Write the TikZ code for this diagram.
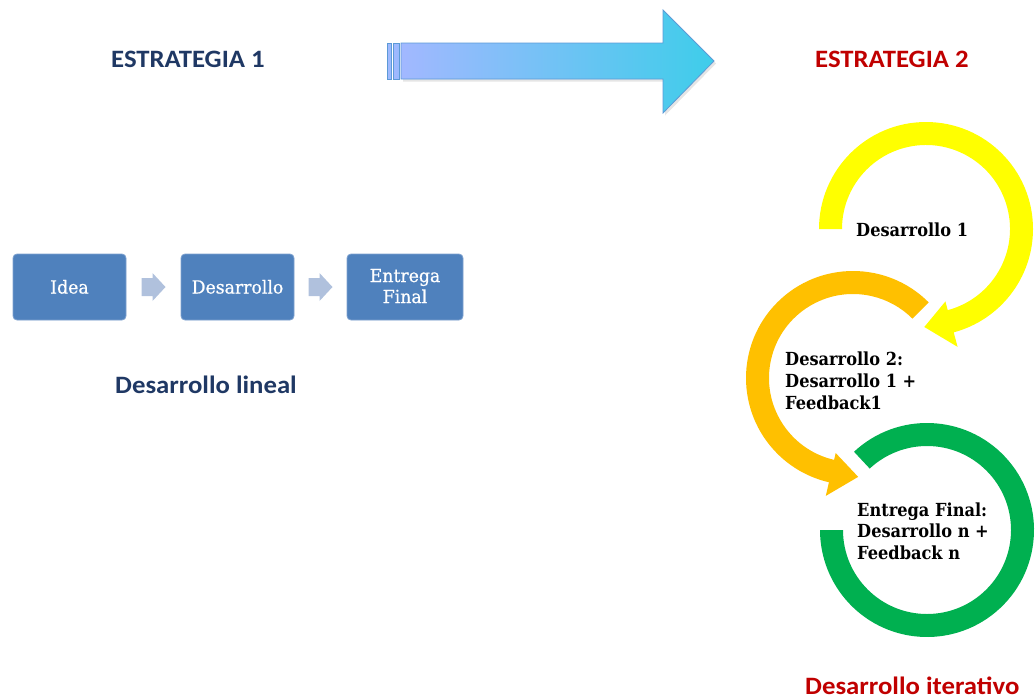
\documentclass[tikz,border=0pt]{standalone}
\usepackage{fontspec}
\setmainfont{DejaVu Serif}
\newfontfamily\headfont{Carlito}[FakeStretch=1.07]
\newfontfamily\ringfont{DejaVu Serif}[FakeStretch=0.9]
\newfontfamily\boxfont{DejaVu Serif}[FakeBold=0.7, FakeStretch=0.96]
\usetikzlibrary{calc}

\definecolor{headblue}{HTML}{1F3864}
\definecolor{headred}{HTML}{C00000}
\definecolor{boxblue}{HTML}{4F81BD}
\definecolor{boxedge}{HTML}{7FA2CF}
\definecolor{stepgray}{HTML}{B0C1DD}
\definecolor{bigleft}{HTML}{A2B8FF}
\definecolor{bigright}{HTML}{3ECDEA}
\definecolor{bigedge}{HTML}{5C9AD6}
\definecolor{ringyellow}{HTML}{FFFF00}
\definecolor{ringorange}{HTML}{FFC000}
\definecolor{ringgreen}{HTML}{00B050}

\tikzset{
  heading/.style={font=\headfont\bfseries\fontsize{25}{30}\selectfont, inner sep=0pt, anchor=base west},
  stagebox/.style={draw=boxedge, line width=0.8pt, fill=boxblue, rounded corners=4pt,
    minimum width=113pt, minimum height=66pt, inner sep=0pt},
  stagetext/.style={text=white, font=\boxfont\fontsize{18}{21}\selectfont, inner sep=0pt, anchor=base},
  steparrow/.style={fill=stepgray},
  ringtext/.style={font=\ringfont\bfseries\fontsize{18}{22}\selectfont, inner sep=0pt,
    text=black, anchor=base west},
}

\begin{document}
\begin{tikzpicture}[x=1pt,y=-1pt]
\useasboundingbox (0,0) rectangle (1036,699);

% headings
\node[heading, text=headblue] (s1) at (111,67) {ESTRATEGIA 1};
\node[heading, text=headred] (s2) at (815,67) {ESTRATEGIA 2};

% big transition arrow with the two stripes at its tail
\fill[black!10] (403,45.5) -- (665,45.5) -- (665,12.5) -- (716,63.5) -- (665,115.5) -- (665,81.5) -- (403,81.5) -- cycle;
\shade[left color=bigleft, right color=bigright, draw=bigedge, line width=0.8pt]
  (401,43) -- (663,43) -- (663,10) -- (714,61) -- (663,113) -- (663,79) -- (401,79) -- cycle;
\shade[left color=bigleft, right color=bigleft!90!bigright, draw=bigedge, line width=0.8pt]
  (387,43) rectangle (391,79);
\shade[left color=bigleft, right color=bigleft!90!bigright, draw=bigedge, line width=0.8pt]
  (393,43) rectangle (399,79);

% linear development
\node[stagebox] (idea) at (69.5,287) {};
\node[stagebox] (dev) at (237.5,287) {};
\node[stagebox, minimum width=116pt] (final) at (405,287) {};
\node[stagetext] (ideat) at (69.5,293.5) {Idea};
\node[stagetext] (devt) at (237.5,293.5) {Desarrollo};
\node[stagetext] (finalt1) at (405,282) {Entrega};
\node[stagetext] (finalt2) at (405,303) {Final};

\foreach \a/\b in {idea/dev, dev/final}{
  \coordinate (m) at ($(\a.east)!0.5!(\b.west)$);
  \fill[steparrow] ($(m)+(-12,-9)$) -- ($(m)+(-1,-9)$) -- ($(m)+(-1,-14)$) -- ($(m)+(12,0)$)
    -- ($(m)+(-1,14)$) -- ($(m)+(-1,9)$) -- ($(m)+(-12,9)$) -- cycle;
}

\node[heading, text=headblue] (lin) at (115,393) {Desarrollo lineal};

% iterative development: three rings
% yellow ring, clockwise from the left, ending in an arrowhead at the bottom
\begin{scope}[shift={(926,229)}]
  \fill[ringyellow] (-180:107) arc[start angle=-180, end angle=75, radius=107]
    -- (75:122) -- (91:98) -- (75:75) -- (75:84)
    arc[start angle=75, end angle=-180, radius=84] -- cycle;
\end{scope}
% orange ring, counter-clockwise from the upper right
\begin{scope}[shift={(853,378)}]
  \fill[ringorange] (-45:107) arc[start angle=-45, end angle=-257, radius=107]
    -- (-257:121) -- (-273:99) -- (-257:77) -- (-257:84)
    arc[start angle=-257, end angle=-45, radius=84] -- cycle;
\end{scope}
% green ring, clockwise from the upper left, open at the left
\begin{scope}[shift={(927,530)}]
  \fill[ringgreen] (-133:107) arc[start angle=-133, end angle=180, radius=107]
    -- (180:84) arc[start angle=180, end angle=-133, radius=84] -- cycle;
\end{scope}

\node[ringtext] (d1) at (856,236) {Desarrollo 1};
\node[ringtext] (d2a) at (785,365) {Desarrollo 2:};
\node[ringtext] (d2b) at (785,387.5) {Desarrollo 1 +};
\node[ringtext] (d2c) at (785,409) {Feedback1};
\node[ringtext] (d3a) at (857,516) {Entrega Final:};
\node[ringtext] (d3b) at (857,537.5) {Desarrollo n +};
\node[ringtext] (d3c) at (857,559) {Feedback n};

\node[heading, text=headred] (it) at (805,694) {Desarrollo iterativo};
\end{tikzpicture}
\end{document}
